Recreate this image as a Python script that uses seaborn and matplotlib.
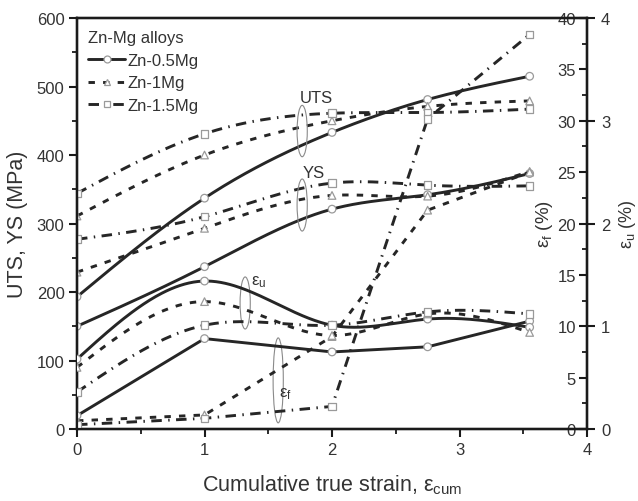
import numpy as np
import pandas as pd
import matplotlib
matplotlib.use("Agg")
import matplotlib.pyplot as plt
import seaborn as sns
from matplotlib.patches import Ellipse
from matplotlib.lines import Line2D
from matplotlib.ticker import MultipleLocator

# ---------------- data ----------------
strain = [0.0, 1.0, 2.0, 2.75, 3.55]
alloys = ["Zn-0.5Mg", "Zn-1Mg", "Zn-1.5Mg"]

uts_05 = [193, 337, 433, 481, 515]
uts_1 = [311, 400, 450, 471, 479]
uts_15 = [344, 431, 461, 462, 467]

ys_05 = [150, 237, 321, 342, 373]
ys_1 = [229, 293, 341, 340, 376]
ys_15 = [277, 310, 359, 356, 355]

eu_05 = [0.68, 1.44, 1.01, 1.07, 0.99]
eu_1 = [0.60, 1.24, 0.91, 1.12, 0.94]
eu_15 = [0.36, 1.01, 1.01, 1.14, 1.12]

ef_05 = [1.3, 8.8, 7.5, 8.0, 10.5]
ef_1 = [0.8, 1.37, 9.0, 21.3, 25.0]
ef_15 = [0.42, 1.04, 2.2, 30.2, 38.4]

x_ticks = [0, 1, 2, 3, 4]
left_ticks = [0, 100, 200, 300, 400, 500, 600]
ef_ticks = [0, 5, 10, 15, 20, 25, 30, 35, 40]
eu_ticks = [0, 1, 2, 3, 4]

# ---------------- style ----------------
sns.set_theme(style="ticks")
plt.rcParams["font.family"] = ["Liberation Sans", "DejaVu Sans"]
plt.rcParams["mathtext.fontset"] = "custom"
plt.rcParams["mathtext.rm"] = "Liberation Sans"
plt.rcParams["mathtext.it"] = "Liberation Sans:italic"
plt.rcParams["mathtext.bf"] = "Liberation Sans:bold"
plt.rcParams["mathtext.default"] = "regular"

LINE = "#262626"
MEDGE = "#9a9a9a"
TXT = "#333333"
palette = {a: LINE for a in alloys}
dash_map = {"Zn-0.5Mg": "", "Zn-1Mg": (2.2, 2.8), "Zn-1.5Mg": (3.6, 2.2, 0.5, 2.2)}
marker_map = {"Zn-0.5Mg": "o", "Zn-1Mg": "^", "Zn-1.5Mg": "s"}


def natural_spline(xk, yk, xs):
    xk = np.asarray(xk, float)
    yk = np.asarray(yk, float)
    n = len(xk)
    h = np.diff(xk)
    A = np.zeros((n, n))
    b = np.zeros(n)
    A[0, 0] = 1.0
    A[-1, -1] = 1.0
    for i in range(1, n - 1):
        A[i, i - 1] = h[i - 1]
        A[i, i] = 2 * (h[i - 1] + h[i])
        A[i, i + 1] = h[i]
        b[i] = 3 * ((yk[i + 1] - yk[i]) / h[i] - (yk[i] - yk[i - 1]) / h[i - 1])
    c = np.linalg.solve(A, b)
    bc = (yk[1:] - yk[:-1]) / h - h * (2 * c[:-1] + c[1:]) / 3
    d = (c[1:] - c[:-1]) / (3 * h)
    idx = np.clip(np.searchsorted(xk, xs) - 1, 0, n - 2)
    dx = xs - xk[idx]
    return yk[idx] + bc[idx] * dx + c[idx] * dx ** 2 + d[idx] * dx ** 3


def draw(target, series, smooth):
    frames, pts = [], []
    for alloy, vals in zip(alloys, series):
        if smooth:
            xs = np.linspace(strain[0], strain[-1], 300)
            ys = natural_spline(strain, vals, xs)
        else:
            xs, ys = np.asarray(strain), np.asarray(vals, float)
        frames.append(pd.DataFrame({"x": xs, "y": ys, "alloy": alloy}))
        pts.append(pd.DataFrame({"x": strain, "y": vals, "alloy": alloy}))
    df = pd.concat(frames, ignore_index=True)
    dp = pd.concat(pts, ignore_index=True)
    sns.lineplot(data=df, x="x", y="y", hue="alloy", style="alloy",
                 palette=palette, dashes=dash_map, estimator=None, sort=False,
                 lw=2.1, legend=False, ax=target)
    sns.scatterplot(data=dp, x="x", y="y", style="alloy", markers=marker_map,
                    color="white", edgecolor=MEDGE, linewidth=0.9, s=30,
                    legend=False, ax=target, zorder=5)


fig = plt.figure(figsize=(6.38, 5.02), dpi=100)
ax = fig.add_axes([0.1207, 0.1434, 0.7994, 0.8187])
ax2 = ax.twinx()
ax3 = ax.twinx()
for a in (ax2, ax3):
    a.set_position(ax.get_position())

draw(ax, [uts_05, uts_1, uts_15], True)
draw(ax, [ys_05, ys_1, ys_15], True)
draw(ax3, [eu_05, eu_1, eu_15], True)
draw(ax2, [ef_05, ef_1, ef_15], False)

# ---------------- axes ----------------
ax.set_xlim(0, 4)
ax.set_ylim(0, 600)
ax2.set_ylim(0, 40)
ax3.set_ylim(0, 4)

ax.set_xticks(x_ticks)
ax.set_xticklabels([str(t) for t in x_ticks])
ax.xaxis.set_minor_locator(MultipleLocator(0.5))
ax.set_yticks(left_ticks)
ax.yaxis.set_minor_locator(MultipleLocator(50))

ax2.set_yticks(ef_ticks)
ax2.yaxis.set_minor_locator(MultipleLocator(2.5))
ax3.set_yticks(eu_ticks)
ax3.yaxis.set_minor_locator(matplotlib.ticker.NullLocator())

for a in (ax, ax2, ax3):
    for s in a.spines.values():
        s.set_linewidth(1.6)
        s.set_color("#1a1a1a")

ax.tick_params(axis="both", which="major", direction="out", length=6, width=1.5,
               labelsize=12, color="#1a1a1a", labelcolor=TXT, pad=3)
ax.tick_params(axis="both", which="minor", direction="out", length=3.5, width=1.3,
               color="#1a1a1a")
ax.tick_params(axis="x", which="both", top=False)
ax.tick_params(axis="y", which="both", right=False)

ax2.tick_params(axis="y", which="major", direction="in", length=6, width=1.5,
                labelsize=12, color="#1a1a1a", labelcolor=TXT, pad=-8,
                left=False, right=True, labelleft=False, labelright=True)
ax2.tick_params(axis="y", which="minor", direction="in", length=3.5, width=1.3,
                color="#1a1a1a", left=False, right=True)
for lab in ax2.get_yticklabels():
    lab.set_horizontalalignment("right")
for t in ax2.yaxis.get_major_ticks():
    t.label2.set_horizontalalignment("right")

ax3.tick_params(axis="y", which="major", direction="out", length=6, width=1.5,
                labelsize=12, color="#1a1a1a", labelcolor=TXT, pad=4,
                left=False, right=True, labelleft=False, labelright=True)

ax.set_xlabel("Cumulative true strain, ε$_{cum}$", fontsize=15.5, color=TXT)
ax.xaxis.set_label_coords(0.5, -0.105)
ax.set_ylabel("UTS, YS (MPa)", fontsize=15.5, color=TXT)
ax.yaxis.set_label_coords(-0.096, 0.5)

ax2.set_ylabel("ε$_{f}$ (%)", fontsize=13.5, color=TXT)
ax2.yaxis.set_label_position("right")
ax2.yaxis.set_label_coords(0.896, 0.5)
ax3.set_ylabel("ε$_{u}$ (%)", fontsize=13, color=TXT)
ax3.yaxis.set_label_position("right")
ax3.yaxis.set_label_coords(1.058, 0.5)
ax3.set_xlabel("")
ax2.set_xlabel("")

# ---------------- annotations ----------------
ell_kw = dict(fill=False, edgecolor="#8a8a8a", lw=0.8, zorder=6)
ax.add_patch(Ellipse((1.766, 435), 0.08, 75, **ell_kw))
ax.add_patch(Ellipse((1.766, 327), 0.08, 76, **ell_kw))
ax.add_patch(Ellipse((1.319, 184), 0.08, 76, **ell_kw))
ax.add_patch(Ellipse((1.578, 71), 0.08, 124, **ell_kw))
txt_kw = dict(fontsize=12, color=TXT, ha="left", va="center", zorder=7)
ax.text(1.75, 484, "UTS", **txt_kw)
ax.text(1.77, 374, "YS", **txt_kw)
ax.text(1.366, 216, "ε$_{u}$", **txt_kw)
ax.text(1.586, 53, "ε$_{f}$", **txt_kw)

# ---------------- legend ----------------
handles = []
for a in alloys:
    h = Line2D([0], [0], color=LINE, lw=2.1,
               marker=marker_map[a], markersize=5, markerfacecolor="white",
               markeredgecolor=MEDGE, markeredgewidth=0.9)
    if dash_map[a]:
        h.set_dashes(dash_map[a])
    handles.append(h)
leg = ax.legend(handles, alloys, title="Zn-Mg alloys", loc="upper left",
                bbox_to_anchor=(0.022, 0.97), frameon=False, fontsize=12,
                title_fontsize=12, handlelength=2.2, handletextpad=0.15,
                labelspacing=0.45, borderpad=0, borderaxespad=0,
                alignment="left")
for t in leg.get_texts():
    t.set_color(TXT)
leg.get_title().set_color(TXT)

fig.savefig("out.png", dpi=100, facecolor="white")
